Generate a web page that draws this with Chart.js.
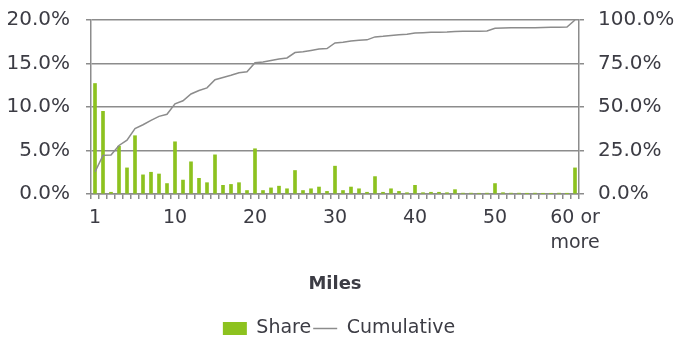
<!DOCTYPE html>
<html>
<head>
<meta charset="utf-8">
<script src="https://cdn.jsdelivr.net/npm/chart.js@4.4.1/dist/chart.umd.min.js"></script>
<style>
  html, body { margin: 0; padding: 0; background: #fff; }
</style>
</head>
<body>
<canvas id="grafica" width="678" height="344"></canvas>
<script>
// categorias (millas), la ultima agrupa "60 o mas"
const miles = ['0','1','2','3','4','5','6','7','8','9',
  '10','11','12','13','14','15','16','17','18','19',
  '20','21','22','23','24','25','26','27','28','29',
  '30','31','32','33','34','35','36','37','38','39',
  '40','41','42','43','44','45','46','47','48','49',
  '50','51','52','53','54','55','56','57','58','59','60 or more'];

// % de viajes por milla
const share = [12.7, 9.5, 0.2, 5.5, 3.0, 6.7, 2.2, 2.5, 2.3, 1.2,
  6.0, 1.6, 3.7, 1.8, 1.3, 4.5, 1.0, 1.1, 1.3, 0.4,
  5.2, 0.4, 0.7, 0.9, 0.6, 2.7, 0.4, 0.6, 0.8, 0.3,
  3.2, 0.4, 0.8, 0.6, 0.2, 2.0, 0.2, 0.6, 0.3, 0.15,
  1.0, 0.15, 0.2, 0.2, 0.15, 0.5, 0.1, 0.1, 0.08, 0.1,
  1.2, 0.15, 0.1, 0.1, 0.06, 0.1, 0.06, 0.06, 0.1, 0.06, 3.0];

// acumulado (eje derecho)
const cumulative = [12.7, 22.2, 22.4, 27.9, 30.9, 37.6, 39.8, 42.3, 44.6, 45.8,
  51.8, 53.6, 57.5, 59.5, 61.0, 65.7, 66.9, 68.2, 69.7, 70.2,
  75.4, 75.9, 76.7, 77.6, 78.2, 81.3, 81.8, 82.5, 83.3, 83.6,
  86.8, 87.2, 87.9, 88.4, 88.6, 90.3, 90.6, 91.1, 91.5, 91.8,
  92.5, 92.7, 92.9, 93.0, 93.1, 93.4, 93.5, 93.6, 93.6, 93.7,
  95.3, 95.4, 95.5, 95.5, 95.6, 95.6, 95.7, 95.8, 95.9, 96.0, 100.0];

// etiquetas visibles del eje x (cada 10 categorias)
const tickLabels = ['1', '10', '20', '30', '40', '50', ['60 or', 'more']];
const tickEvery = 10;

const gris = '#8c8c8c';
const texto = '#3c3c44';
const verde = '#8dc21f';

Chart.defaults.font.family = 'DejaVu Sans';
Chart.defaults.color = texto;

// ancho fijo de los ejes verticales y sin margen extra arriba
function fijarEje(ancho) {
  return (s) => {
    s.width = ancho;
    s.paddingTop = 0;
    s.paddingBottom = 0;
  };
}

var ctx = document.getElementById('grafica').getContext('2d');
var grafica = new Chart(ctx, {
  type: 'bar',
  data: {
    labels: miles,
    datasets: [{
      type: 'line',
      label: 'Cumulative',
      data: cumulative,
      yAxisID: 'y1',
      borderColor: gris,
      backgroundColor: gris,
      borderWidth: 1.5,
      pointRadius: 0,
      tension: 0,
      order: 0
    }, {
      label: 'Share',
      data: share,
      yAxisID: 'y',
      backgroundColor: verde,
      barThickness: 3,
      order: 1
    }]
  },
  options: {
    responsive: false,
    animation: false,
    devicePixelRatio: 1,
    layout: { padding: { left: 0, right: 0, top: 20, bottom: -4 } },
    plugins: {
      tooltip: { enabled: false },
      legend: {
        position: 'bottom',
        reverse: true,
        labels: {
          usePointStyle: true,
          pointStyleWidth: 24,
          boxHeight: 13,
          padding: 2,
          font: { size: 19 },
          color: texto,
          generateLabels: (chart) => chart.data.datasets.map((ds, i) => ({
            text: ds.label,
            datasetIndex: i,
            fillStyle: ds.type === 'line' ? gris : verde,
            strokeStyle: ds.type === 'line' ? gris : verde,
            lineWidth: ds.type === 'line' ? 1.5 : 0,
            pointStyle: ds.type === 'line' ? 'line' : 'rect',
            fontColor: texto
          }))
        }
      }
    },
    scales: {
      x: {
        offset: true,
        afterFit: (s) => { s.height = 123; },
        grid: {
          offset: true,
          drawOnChartArea: false,
          drawTicks: true,
          tickLength: 5,
          color: gris,
          lineWidth: 1.5
        },
        border: { display: true, color: gris, width: 1.5 },
        ticks: {
          autoSkip: false,
          maxRotation: 0,
          padding: 7,
          font: { size: 19, lineHeight: 1.3 },
          color: texto,
          callback: (v, i) => (i % tickEvery === 0 ? tickLabels[i / tickEvery] : '')
        },
        title: {
          display: true,
          text: 'Miles',
          font: { size: 18, weight: 'bold' },
          color: texto,
          padding: { top: 6, bottom: 22 }
        }
      },
      y: {
        position: 'left',
        min: 0,
        max: 20,
        afterFit: fijarEje(91),
        grid: { color: gris, lineWidth: 1.5, tickLength: 5 },
        border: { display: true, color: gris, width: 1.5 },
        ticks: {
          stepSize: 5,
          padding: 16,
          font: { size: 20 },
          color: texto,
          callback: (v) => v.toFixed(1) + '%'
        }
      },
      y1: {
        position: 'right',
        min: 0,
        max: 100,
        afterFit: fijarEje(99),
        grid: { drawOnChartArea: false, color: gris, lineWidth: 1.5, tickLength: 5 },
        border: { display: true, color: gris, width: 1.5 },
        ticks: {
          stepSize: 25,
          padding: 14,
          font: { size: 20 },
          color: texto,
          callback: (v) => v.toFixed(1) + '%'
        }
      }
    }
  }
});
</script>
</body>
</html>
